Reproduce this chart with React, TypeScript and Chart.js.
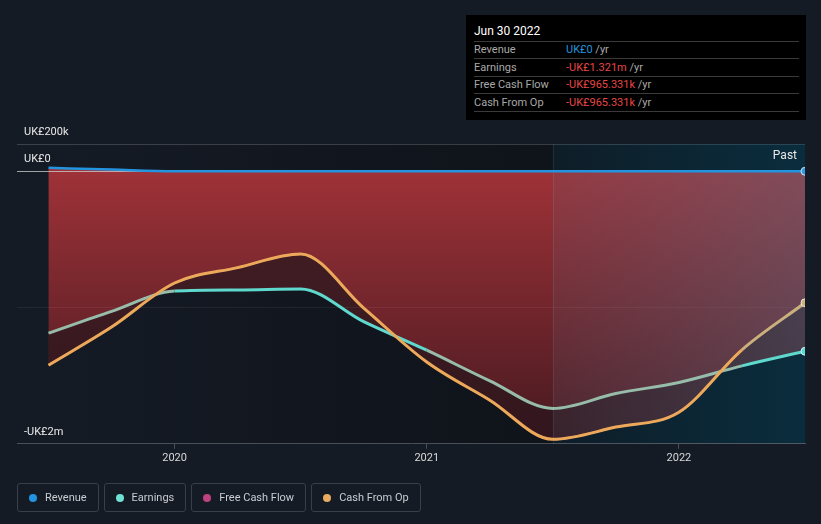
import React, { useEffect, useRef } from 'react';
import { Chart, registerables } from 'chart.js';

Chart.register(...registerables);

// ---- data (fractional years; Jun 30 2022 = 2022.5) ----
const periods = [2019.5, 2019.75, 2020, 2020.25, 2020.5, 2020.75, 2021, 2021.25, 2021.5, 2021.75, 2022, 2022.25, 2022.5];
const revenue = [25000, 12000, 0, 0, 0, 0, 0, 0, 0, 0, 0, 0, 0];
const earnings = [-1188000, -1028000, -879000, -871000, -864000, -1104000, -1313000, -1538000, -1741000, -1631000, -1550000, -1428000, -1321000];
const freeCashFlow = [-1423000, -1143000, -820000, -707000, -607000, -1004000, -1400000, -1680000, -1967000, -1877000, -1768000, -1310000, -965331];
const cashFromOp = [-1423000, -1143000, -820000, -707000, -607000, -1004000, -1400000, -1680000, -1967000, -1877000, -1768000, -1310000, -965331];

const xTickValues = [2020, 2021, 2022];
const yTickValues = [-2000000, -1000000, 0, 200000];
const yTickLabels = ['-UK£2m', '', 'UK£0', 'UK£200k'];
const xMin = 2019.375;
const xMax = 2022.5;
const pastStart = 2021.5;

const tooltipTitle = 'Jun 30 2022';
const tooltipLabels = ['Revenue', 'Earnings', 'Free Cash Flow', 'Cash From Op'];
const tooltipValues = ['UK£0', '-UK£1.321m', '-UK£965.331k', '-UK£965.331k'];
const tooltipColors = ['#2394df', '#e84545', '#e84545', '#e84545'];

const legendLabels = ['Revenue', 'Earnings', 'Free Cash Flow', 'Cash From Op'];
const legendColors = ['#2394df', '#6ee1d2', '#c0417f', '#e8ab5f'];

const FONT = 'Roboto, "Noto Sans", sans-serif';

const toXY = (vals: number[]) => periods.map((p, i) => ({ x: p, y: vals[i] }));

const lastOnly = (r: number) => (ctx: any) => (ctx.dataIndex === periods.length - 1 ? r : 0);

// segment helpers: compare the two series at the middle of a segment
const segAvg = (vals: number[], c: any) => (vals[c.p0DataIndex] + vals[c.p1DataIndex]) / 2;
const earningsSegColor = (c: any) =>
  segAvg(earnings, c) > segAvg(cashFromOp, c) ? '#97bcaa' : '#5fd9cd';
const cfoSegColor = (c: any) =>
  periods[c.p0DataIndex] >= pastStart && segAvg(cashFromOp, c) > segAvg(earnings, c) ? '#c9b07c' : '#eca95a';

const brightFill = (ctx: any) => {
  const chart = ctx.chart;
  const a = chart.chartArea;
  if (!a) return 'rgba(0,0,0,0)';
  const y0 = chart.scales.y.getPixelForValue(0);
  const g = chart.ctx.createLinearGradient(0, y0, 0, a.bottom);
  g.addColorStop(0, 'rgb(158,50,56)');
  g.addColorStop(1, 'rgb(70,25,32)');
  return g;
};

const darkFill = (ctx: any) => {
  const chart = ctx.chart;
  const a = chart.chartArea;
  if (!a) return 'rgba(0,0,0,0)';
  const y0 = chart.scales.y.getPixelForValue(0);
  const g = chart.ctx.createLinearGradient(0, y0, 0, a.bottom);
  g.addColorStop(0, 'rgb(70,31,37)');
  g.addColorStop(1, 'rgb(50,22,29)');
  return g;
};

const backdropPlugin = {
  id: 'swsBackdrop',
  afterUpdate(chart: any) {
    const a = chart.chartArea;
    chart.getSortedVisibleDatasetMetas().forEach((m: any) => {
      if (m.dataset && m.dataset.updateControlPoints) {
        m.dataset.updateControlPoints(a, m.iScale ? m.iScale.axis : 'x');
      }
    });
  },
  beforeDatasetsDraw(chart: any) {
    const { ctx, chartArea: a, scales } = chart;
    const px = scales.x.getPixelForValue(pastStart);
    ctx.save();
    ctx.globalCompositeOperation = 'source-atop';
    const g = ctx.createLinearGradient(px, 0, a.right, 0);
    g.addColorStop(0, 'rgba(90,112,138,0.14)');
    g.addColorStop(1, 'rgba(90,112,138,0.42)');
    ctx.fillStyle = g;
    ctx.fillRect(px, a.top, a.right - px, a.bottom - a.top);
    ctx.globalCompositeOperation = 'source-over';
    ctx.strokeStyle = 'rgba(255,255,255,0.07)';
    ctx.lineWidth = 1;
    ctx.beginPath();
    ctx.moveTo(Math.round(px) + 0.5, a.top);
    ctx.lineTo(Math.round(px) + 0.5, a.bottom);
    ctx.stroke();
    ctx.restore();
  },
  afterDraw(chart: any) {
    const { ctx, chartArea: a, scales } = chart;
    const px = scales.x.getPixelForValue(pastStart);
    ctx.save();
    ctx.globalCompositeOperation = 'destination-over';
    const gp = ctx.createLinearGradient(px, 0, a.right, 0);
    gp.addColorStop(0, 'rgb(14,29,40)');
    gp.addColorStop(1, 'rgb(10,45,61)');
    ctx.fillStyle = gp;
    ctx.fillRect(px, a.top, a.right - px, a.bottom - a.top);
    const gl = ctx.createLinearGradient(a.left, 0, px, 0);
    gl.addColorStop(0, 'rgb(21,27,37)');
    gl.addColorStop(1, 'rgb(15,19,26)');
    ctx.fillStyle = gl;
    ctx.fillRect(a.left, a.top, px - a.left, a.bottom - a.top);
    ctx.restore();
    ctx.save();
    ctx.fillStyle = '#e8e8e8';
    ctx.font = '12px ' + FONT;
    ctx.textAlign = 'right';
    ctx.textBaseline = 'middle';
    ctx.fillText('Past', a.right - 8, a.top + 12);
    ctx.restore();
  },
};

const hidden = (label: string, vals: number[], fill: any, bg?: any) => ({
  label,
  data: toXY(vals),
  borderColor: 'rgba(0,0,0,0)',
  borderWidth: 1,
  backgroundColor: bg || 'rgba(0,0,0,0)',
  fill,
  pointRadius: 0,
  cubicInterpolationMode: 'monotone',
});

export default function App() {
  const ref = useRef<HTMLCanvasElement | null>(null);

  useEffect(() => {
    if (!ref.current) return;
    Chart.defaults.font.family = FONT;
    const chart = new Chart(ref.current, {
      type: 'line',
      data: {
        datasets: [
          {
            label: 'Cash From Op',
            data: toXY(cashFromOp),
            borderColor: '#eca95a',
            segment: { borderColor: cfoSegColor },
            borderWidth: 3,
            fill: false,
            pointRadius: lastOnly(4),
            pointBackgroundColor: '#cbb27c',
            pointBorderColor: 'rgba(255,255,255,0.75)',
            pointBorderWidth: 1,
            cubicInterpolationMode: 'monotone',
          },
          {
            label: 'Earnings',
            data: toXY(earnings),
            borderColor: '#5fd9cd',
            segment: { borderColor: earningsSegColor },
            borderWidth: 3,
            fill: false,
            pointRadius: lastOnly(4),
            pointBackgroundColor: '#56d8dc',
            pointBorderColor: 'rgba(255,255,255,0.75)',
            pointBorderWidth: 1,
            cubicInterpolationMode: 'monotone',
          },
          {
            label: 'Free Cash Flow',
            data: toXY(freeCashFlow),
            borderColor: '#c0417f',
            borderWidth: 2,
            fill: false,
            pointRadius: 0,
            cubicInterpolationMode: 'monotone',
          },
          {
            label: 'Revenue',
            data: toXY(revenue),
            borderColor: '#2394df',
            borderWidth: 2.5,
            fill: false,
            pointRadius: lastOnly(4),
            pointBackgroundColor: '#2f9ae3',
            pointBorderColor: 'rgba(255,255,255,0.75)',
            pointBorderWidth: 1,
            cubicInterpolationMode: 'monotone',
          },
          // fill helpers (4..7): dark band between CFO and earnings on top of bright band below revenue
          hidden('cfo-fill', cashFromOp, 5, darkFill),
          hidden('earnings-base', earnings, false),
          hidden('revenue-to-cfo', revenue, 4, brightFill),
          hidden('revenue-to-earnings', revenue, 5, brightFill),
        ],
      } as any,
      options: {
        animation: false,
        responsive: true,
        maintainAspectRatio: false,
        events: [],
        clip: 0 as any,
        layout: { padding: { left: 3, right: 16, top: 144, bottom: 56 } },
        plugins: {
          legend: { display: false },
          tooltip: { enabled: false },
          filler: { drawTime: 'beforeDraw', propagate: false } as any,
        },
        scales: {
          x: {
            type: 'linear',
            min: xMin,
            max: xMax,
            afterBuildTicks: (s: any) => {
              s.ticks = xTickValues.map((v) => ({ value: v }));
            },
            grid: { drawOnChartArea: false, color: '#4a4f57', tickLength: 5 },
            border: { color: '#4a4f57' },
            ticks: {
              color: '#d8d8d8',
              font: { size: 11 },
              padding: 3,
              maxRotation: 0,
              autoSkip: false,
              callback: (v: any) => String(v),
            },
          },
          y: {
            type: 'linear',
            min: yTickValues[0],
            max: yTickValues[yTickValues.length - 1],
            afterBuildTicks: (s: any) => {
              s.ticks = yTickValues.map((v) => ({ value: v }));
            },
            border: { display: false },
            grid: {
              drawTicks: false,
              color: (c: any) => {
                const v = c.tick ? c.tick.value : null;
                if (v === 0) return 'rgba(200,200,200,0.8)';
                if (v === 200000) return 'rgba(255,255,255,0.17)';
                if (v === -1000000) return 'rgba(255,255,255,0.06)';
                return 'rgba(0,0,0,0)';
              },
            },
            ticks: {
              mirror: true,
              padding: 7,
              labelOffset: -12,
              color: '#e8e8e8',
              font: { size: 11 },
              callback: (v: any) => {
                const i = yTickValues.indexOf(Number(v));
                return i >= 0 ? yTickLabels[i] : '';
              },
            },
          },
        },
      } as any,
      plugins: [backdropPlugin],
    });
    return () => chart.destroy();
  }, []);

  const sepTops = [26, 43, 61, 78, 96];

  return (
    <div
      style={{
        position: 'fixed',
        left: 0,
        top: 0,
        width: 821,
        height: 524,
        background: '#151b25',
        fontFamily: FONT,
        overflow: 'hidden',
      }}
    >
      <div style={{ position: 'absolute', left: 0, top: 0, width: 821, height: 524 }}>
        <canvas ref={ref} />
      </div>

      <div
        style={{
          position: 'absolute',
          left: 466,
          top: 15,
          width: 340,
          height: 105,
          background: '#000',
        }}
      >
        <div
          style={{
            position: 'absolute',
            left: 8,
            top: 8,
            fontSize: 12,
            lineHeight: '16px',
            color: '#ffffff',
          }}
        >
          {tooltipTitle}
        </div>
        {sepTops.map((t, i) => (
          <div
            key={'s' + i}
            style={{ position: 'absolute', left: 8, top: t, width: 325, height: 1, background: '#3a3a3a' }}
          />
        ))}
        {tooltipLabels.map((l, i) => (
          <div
            key={'r' + i}
            style={{
              position: 'absolute',
              left: 8,
              top: sepTops[i] + 1,
              height: sepTops[i + 1] - sepTops[i] - 1,
              lineHeight: sepTops[i + 1] - sepTops[i] - 1 + 'px',
              fontSize: 11,
              width: 325,
            }}
          >
            <span style={{ position: 'absolute', left: 0, color: '#a9a9a9' }}>{l}</span>
            <span style={{ position: 'absolute', left: 92, whiteSpace: 'nowrap' }}>
              <span style={{ color: tooltipColors[i] }}>{tooltipValues[i]}</span>
              <span style={{ color: '#a9a9a9' }}> /yr</span>
            </span>
          </div>
        ))}
      </div>

      <div style={{ position: 'absolute', left: 17, top: 483, display: 'flex', gap: 5 }}>
        {legendLabels.map((l, i) => (
          <div
            key={l}
            style={{
              boxSizing: 'border-box',
              height: 29,
              border: '1px solid #393e48',
              borderRadius: 3,
              padding: '0 11px',
              display: 'flex',
              alignItems: 'center',
              color: '#c9ccd1',
              fontSize: 11,
              whiteSpace: 'nowrap',
            }}
          >
            <span
              style={{
                display: 'inline-block',
                width: 8,
                height: 8,
                borderRadius: 4,
                background: legendColors[i],
                marginRight: 8,
              }}
            />
            {l}
          </div>
        ))}
      </div>
    </div>
  );
}
